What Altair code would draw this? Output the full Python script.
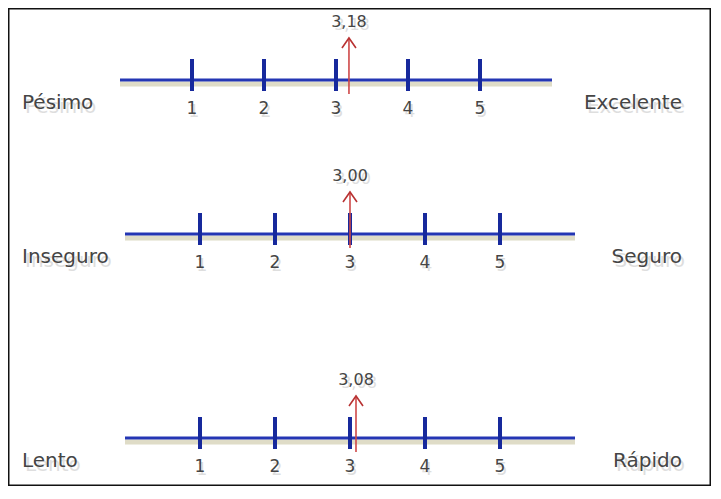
import altair as alt
import pandas as pd

# ---- data ----
IZQUIERDA = ["Pésimo", "Inseguro", "Lento"]
DERECHA = ["Excelente", "Seguro", "Rápido"]
PROMEDIO = [3.18, 3.00, 3.08]
ETIQUETA = ["3,18", "3,00", "3,08"]
PUNTOS = [1, 2, 3, 4, 5]
EXTREMOS = [0, 6]

# ---- layout ----
W, H = 703, 478
FILA_Y = [72, 226, 430]          # pixel rows of the three scales
FONT = "DejaVu Sans"
TXT = "#454545"
SOMBRA = "#8a8a8a"

escalas = pd.DataFrame({
    "fila": [0, 1, 2],
    "izq": IZQUIERDA,
    "der": DERECHA,
    "valor": PROMEDIO,
    "etiqueta": ETIQUETA,
    "desde": [EXTREMOS[0]] * 3,
    "hasta": [EXTREMOS[1]] * 3,
})
marcas = pd.DataFrame([
    {"fila": f, "punto": p, "texto": str(p)} for f in range(3) for p in PUNTOS
])

YS = alt.Scale(domain=[0, 1, 2], range=FILA_Y, nice=False, zero=False)
Y = alt.Y("fila:Q", scale=YS, axis=None)
Y2 = alt.Y2("fila:Q")


def grupo(filas, px0, paso):
    xs = alt.Scale(domain=[-px0 / paso, (W - px0) / paso], nice=False, zero=False)
    flt = alt.FieldOneOfPredicate(field="fila", oneOf=filas)
    esc = alt.Chart(escalas).transform_filter(flt)
    mar = alt.Chart(marcas).transform_filter(flt)

    sombra_linea = esc.mark_rule(color="#c9c5a2", strokeWidth=5, opacity=0.6, yOffset=4).encode(
        x=alt.X("desde:Q", scale=xs, axis=None), x2="hasta:Q", y=Y)
    linea = esc.mark_rule(color="#2436b4", strokeWidth=3).encode(
        x=alt.X("desde:Q", scale=xs, axis=None), x2="hasta:Q", y=Y)
    ticks = mar.mark_rule(color="#17299c", strokeWidth=4, yOffset=-21, y2Offset=11).encode(
        x=alt.X("punto:Q", scale=xs, axis=None), y=Y, y2=Y2)
    num_sombra = mar.mark_text(font=FONT, fontSize=17, color=SOMBRA, opacity=0.28,
                               xOffset=2, yOffset=32, baseline="middle").encode(
        x=alt.X("punto:Q", scale=xs, axis=None), y=Y, text="texto:N")
    num = mar.mark_text(font=FONT, fontSize=17, color=TXT, yOffset=29, baseline="middle").encode(
        x=alt.X("punto:Q", scale=xs, axis=None), y=Y, text="texto:N")
    flecha = esc.mark_rule(color="#cf4848", strokeWidth=1.6, yOffset=-42, y2Offset=14).encode(
        x=alt.X("valor:Q", scale=xs, axis=None), y=Y, y2=Y2)
    punta = esc.mark_point(shape="M-0.7,1L0,0L0.7,1", filled=False, size=400,
                           strokeWidth=1.6, color="#b83232", opacity=1, yOffset=-42).encode(
        x=alt.X("valor:Q", scale=xs, axis=None), y=Y)
    val_sombra = esc.mark_text(font=FONT, fontSize=16, color=SOMBRA, opacity=0.28,
                               xOffset=3, yOffset=-55, baseline="middle").encode(
        x=alt.X("valor:Q", scale=xs, axis=None), y=Y, text="etiqueta:N")
    val = esc.mark_text(font=FONT, fontSize=16, color=TXT, yOffset=-58, baseline="middle").encode(
        x=alt.X("valor:Q", scale=xs, axis=None), y=Y, text="etiqueta:N")
    return alt.layer(sombra_linea, linea, ticks, num_sombra, num, flecha, punta, val_sombra, val)


base = alt.Chart(escalas)
izq_s = base.mark_text(font=FONT, fontSize=20, color=SOMBRA, opacity=0.28, align="left",
                       baseline="middle", xOffset=3, yOffset=27).encode(
    x=alt.value(14), y=Y, text="izq:N")
izq = base.mark_text(font=FONT, fontSize=20, color=TXT, align="left",
                     baseline="middle", yOffset=23).encode(
    x=alt.value(14), y=Y, text="izq:N")
der_s = base.mark_text(font=FONT, fontSize=20, color=SOMBRA, opacity=0.28, align="right",
                       baseline="middle", xOffset=3, yOffset=27).encode(
    x=alt.value(674), y=Y, text="der:N")
der = base.mark_text(font=FONT, fontSize=20, color=TXT, align="right",
                     baseline="middle", yOffset=23).encode(
    x=alt.value(674), y=Y, text="der:N")

chart = alt.layer(
    grupo([0], 112, 72),
    grupo([1, 2], 117, 75),
    izq_s, izq, der_s, der,
).resolve_scale(x="independent").properties(
    width=W, height=H, padding=0, autosize=alt.AutoSizeParams(type="none"),
    background="white",
).configure_view(stroke="#111111", strokeWidth=3)

chart.save("out.html", embed_options={"renderer": "svg", "actions": False})
